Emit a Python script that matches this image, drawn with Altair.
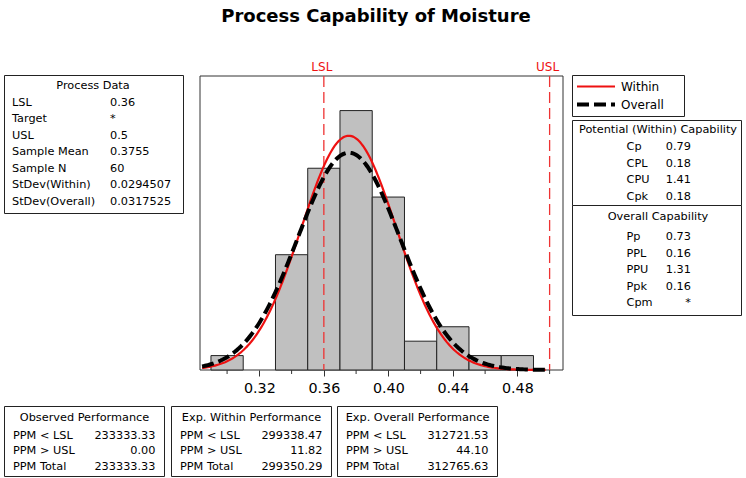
import altair as alt
import numpy as np
import pandas as pd

# ---- data -------------------------------------------------------------
bin_starts = [0.29, 0.31, 0.33, 0.35, 0.37, 0.39, 0.41, 0.43, 0.45, 0.47]
bin_width = 0.02
bin_counts = [1, 0, 8, 14, 18, 12, 2, 3, 1, 1]

lsl = 0.36
usl = 0.50
sample_mean = 0.3755
sample_n = 60
stdev_within = 0.0294507
stdev_overall = 0.0317525

major_ticks = [0.32, 0.36, 0.40, 0.44, 0.48]
minor_ticks = [0.30, 0.34, 0.38, 0.42, 0.46, 0.50]

process_labels = ["LSL", "Target", "USL", "Sample Mean", "Sample N",
                  "StDev(Within)", "StDev(Overall)"]
process_values = ["0.36", "*", "0.5", "0.3755", "60", "0.0294507", "0.0317525"]

within_cap_labels = ["Cp", "CPL", "CPU", "Cpk"]
within_cap_values = ["0.79", "0.18", "1.41", "0.18"]
overall_cap_labels = ["Pp", "PPL", "PPU", "Ppk", "Cpm"]
overall_cap_values = ["0.73", "0.16", "1.31", "0.16", "*"]

ppm_labels = ["PPM < LSL", "PPM > USL", "PPM Total"]
observed_ppm = ["233333.33", "0.00", "233333.33"]
exp_within_ppm = ["299338.47", "11.82", "299350.29"]
exp_overall_ppm = ["312721.53", "44.10", "312765.63"]

# ---- scales (plot frame occupies x 200..563, y 76..370 of the canvas) ----
X_DOMAIN = [0.2832, 0.5083]
Y_DOMAIN = [0, 20.4]
xs = alt.Scale(domain=X_DOMAIN, range=[200, 563], nice=False, zero=False)
ys = alt.Scale(domain=Y_DOMAIN, range=[370, 76], nice=False, zero=False)

FONT = "DejaVu Sans"
TXT = 11.3
W, H = 746, 478

# ---- histogram ------------------------------------------------------------
hist = pd.DataFrame({
    "start": bin_starts,
    "end": [b + bin_width for b in bin_starts],
    "count": bin_counts,
})
hist = hist[hist["count"] > 0]
hist["base"] = 0

frame_df = pd.DataFrame({"x0": [X_DOMAIN[0]], "x1": [X_DOMAIN[1]],
                         "y0": [Y_DOMAIN[0]], "y1": [Y_DOMAIN[1]]})

frame = alt.Chart(frame_df).mark_rect(fill="white", stroke="#333333", strokeWidth=1).encode(
    x=alt.X("x0:Q", scale=xs, axis=None), x2="x1:Q",
    y=alt.Y("y0:Q", scale=ys, axis=None), y2="y1:Q",
)

bars = alt.Chart(hist).mark_rect(fill="#c0c0c0", stroke="#222222", strokeWidth=1).encode(
    x=alt.X("start:Q", scale=xs,
            axis=alt.Axis(values=major_ticks, format=".2f", domain=False, grid=False,
                          tickSize=6, tickColor="#333333", labelFont=FONT,
                          labelFontSize=14.3, labelColor="black", labelPadding=5,
                          title=None, offset=-108, labelFlush=False,
                          labelOverlap=False)),
    x2="end:Q",
    y=alt.Y("count:Q", scale=ys, axis=None),
    y2="base:Q",
)

# minor ticks under the frame
minor_df = pd.DataFrame({"x": minor_ticks})
minor = alt.Chart(minor_df).mark_rule(color="#333333", strokeWidth=1).encode(
    x=alt.X("x:Q", scale=xs, axis=None), y=alt.value(370), y2=alt.value(374))

# fitted normal curves (within and overall standard deviation)
grid = np.linspace(0.2845, 0.4975, 240)
scale_k = sample_n * bin_width


def normal_curve(sd):
    return scale_k * np.exp(-0.5 * ((grid - sample_mean) / sd) ** 2) / (sd * np.sqrt(2 * np.pi))


curves = pd.DataFrame({"x": grid, "within": normal_curve(stdev_within),
                       "overall": normal_curve(stdev_overall)})

within_line = alt.Chart(curves).mark_line(color="#ee1111", strokeWidth=2.2).encode(
    x=alt.X("x:Q", scale=xs, axis=None), y=alt.Y("within:Q", scale=ys, axis=None))
overall_line = alt.Chart(curves).mark_line(color="black", strokeWidth=4,
                                           strokeDash=[12, 5]).encode(
    x=alt.X("x:Q", scale=xs, axis=None), y=alt.Y("overall:Q", scale=ys, axis=None))

# specification limits
spec_df = pd.DataFrame({"x": [lsl, usl], "name": ["LSL", "USL"],
                        "top": [Y_DOMAIN[1]] * 2, "bottom": [0, 0]})
spec_lines = alt.Chart(spec_df).mark_rule(color="#ee3333", strokeWidth=1.3,
                                          strokeDash=[11, 5]).encode(
    x=alt.X("x:Q", scale=xs, axis=None), y=alt.Y("top:Q", scale=ys, axis=None),
    y2="bottom:Q")
spec_text = alt.Chart(spec_df).mark_text(color="#ee1111", font=FONT, fontSize=12,
                                         baseline="alphabetic", dx=-2).encode(
    x=alt.X("x:Q", scale=xs, axis=None), y=alt.value(71), text="name:N")

# ---- tables --------------------------------------------------------------
boxes_df = pd.DataFrame([
    # x, y, x2, y2
    (4.5, 75.5, 183.5, 213.5),      # process data
    (572.5, 75.5, 684.5, 116.5),    # legend
    (572.5, 120.5, 741.5, 205.5),   # potential capability
    (572.5, 205.5, 741.5, 315.5),   # overall capability
    (4.5, 406.5, 164.5, 476.5),     # observed performance
    (171.5, 406.5, 331.5, 476.5),   # expected within
    (337.5, 406.5, 497.5, 476.5),   # expected overall
], columns=["bx", "by", "bx2", "by2"])
boxes = alt.Chart(boxes_df).mark_rect(fill="white", stroke="#222222", strokeWidth=1).encode(
    x=alt.X("bx:Q", scale=None, axis=None), x2="bx2:Q",
    y=alt.Y("by:Q", scale=None, axis=None), y2="by2:Q")

rows = []


def add_text(text, x, y, align="left", size=TXT):
    rows.append({"t": text, "px": x, "py": y, "align": align, "size": size})


# process data
add_text("Process Data", 93, 86, "center")
for i, (lab, val) in enumerate(zip(process_labels, process_values)):
    y = 102.5 + i * 16.5
    add_text(lab, 12, y)
    add_text(val, 110, y)

# potential (within) capability
add_text("Potential (Within) Capability", 658, 130, "center")
for i, (lab, val) in enumerate(zip(within_cap_labels, within_cap_values)):
    y = 147 + i * 16.5
    add_text(lab, 626.5, y)
    add_text(val, 691, y, "right")

# overall capability
add_text("Overall Capability", 658, 216.5, "center")
for i, (lab, val) in enumerate(zip(overall_cap_labels, overall_cap_values)):
    y = 237 + i * 16.6
    add_text(lab, 626.5, y)
    add_text(val, 691, y, "right")

# performance tables
perf_titles = ["Observed Performance", "Exp. Within Performance", "Exp. Overall Performance"]
perf_values = [observed_ppm, exp_within_ppm, exp_overall_ppm]
perf_left = [4.5, 171.5, 337.5]
perf_right = [164.5, 331.5, 497.5]
for title, vals, lx, rx in zip(perf_titles, perf_values, perf_left, perf_right):
    add_text(title, (lx + rx) / 2, 418, "center")
    for i, (lab, val) in enumerate(zip(ppm_labels, vals)):
        y = 435.5 + i * 15.5
        add_text(lab, lx + 8.5, y)
        add_text(val, rx - 9, y, "right")

# legend entries
add_text("Within", 621, 86.5, "left", 12)
add_text("Overall", 621, 104.5, "left", 12)

text_df = pd.DataFrame(rows)


def text_layer(align):
    sub = text_df[text_df["align"] == align]
    return alt.Chart(sub).mark_text(font=FONT, align=align, baseline="middle",
                                    color="black").encode(
        x=alt.X("px:Q", scale=None, axis=None), y=alt.Y("py:Q", scale=None, axis=None),
        text="t:N",
        size=alt.Size("size:Q", scale=None, legend=None))


texts = text_layer("left") + text_layer("center") + text_layer("right")

# legend swatches
legend_df = pd.DataFrame({"lx": [577, 577], "lx2": [615, 615], "ly": [86.5, 104.5],
                          "kind": ["Within", "Overall"]})
leg_within = alt.Chart(legend_df[legend_df.kind == "Within"]).mark_rule(
    color="#ee1111", strokeWidth=2.2).encode(
    x=alt.X("lx:Q", scale=None, axis=None), x2="lx2:Q",
    y=alt.Y("ly:Q", scale=None, axis=None))
leg_overall = alt.Chart(legend_df[legend_df.kind == "Overall"]).mark_rule(
    color="black", strokeWidth=4, strokeDash=[12, 5]).encode(
    x=alt.X("lx:Q", scale=None, axis=None), x2="lx2:Q",
    y=alt.Y("ly:Q", scale=None, axis=None))

title_df = pd.DataFrame({"t": ["Process Capability of Moisture"]})
title = alt.Chart(title_df).mark_text(font=FONT, fontSize=18, fontWeight="bold",
                                      align="center", baseline="alphabetic",
                                      color="black").encode(
    x=alt.value(376), y=alt.value(22), text="t:N")

chart = alt.layer(
    frame, bars, minor, spec_lines, within_line, overall_line, spec_text,
    boxes, texts, leg_within, leg_overall, title,
).resolve_scale(x="shared", y="shared").resolve_axis(
    x="independent", y="independent"
).properties(
    width=W, height=H, padding=0,
    autosize=alt.AutoSizeParams(type="none"),
    background="white",
).configure_view(stroke=None)

chart.save("out.html", embed_options={"renderer": "svg", "actions": False})
